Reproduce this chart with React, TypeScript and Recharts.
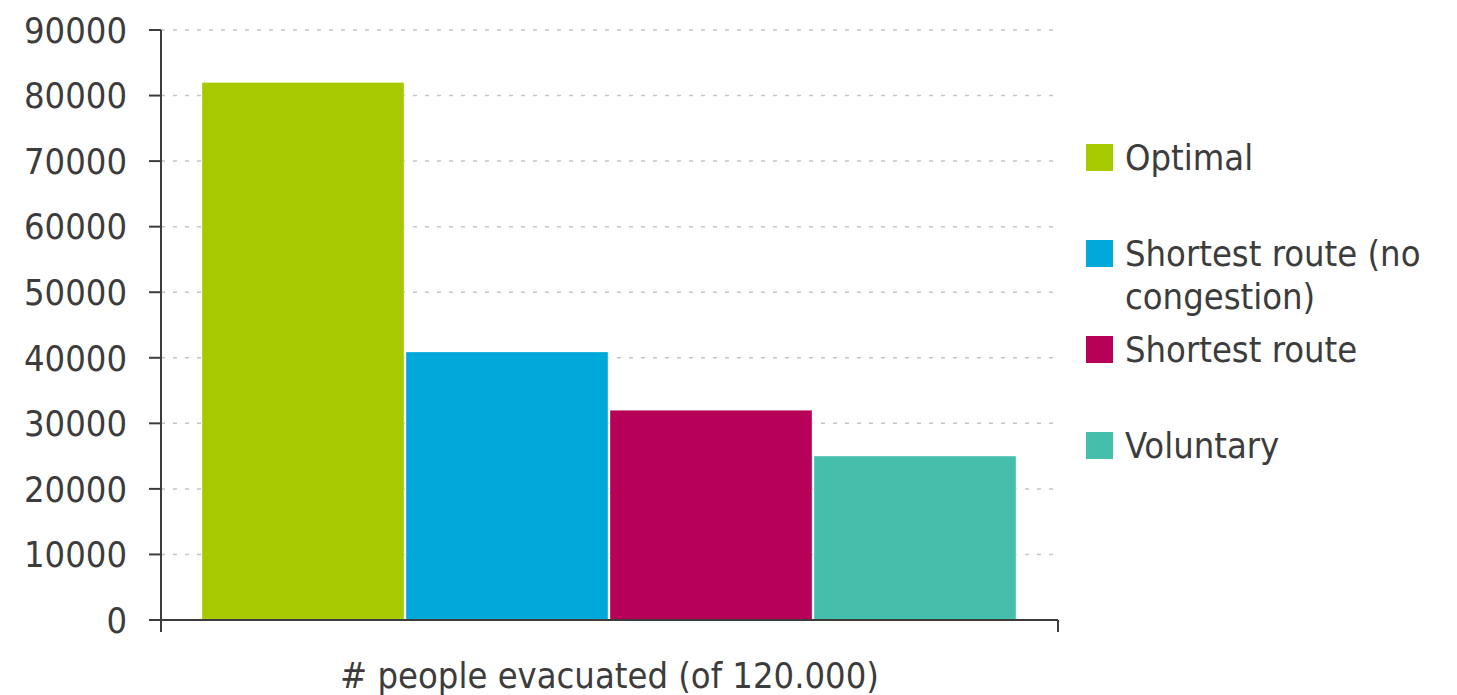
import { BarChart, Bar, XAxis, YAxis, CartesianGrid, Legend } from 'recharts';

// evacuation results, one category with four strategies
const categories = ['# people evacuated (of 120.000)'];
const strategyKeys = ['optimal', 'shortestFree', 'shortest', 'voluntary'];
const strategyNames = ['Optimal', 'Shortest route (no congestion)', 'Shortest route', 'Voluntary'];
const evacuated = [82000, 40900, 32000, 25000];
const strategyColors = ['#a6c900', '#00a9da', '#b70058', '#45bfab'];
const yTicks = [0, 10000, 20000, 30000, 40000, 50000, 60000, 70000, 80000, 90000];

const data = categories.map((name) => {
  const row: Record<string, string | number> = { name };
  strategyKeys.forEach((k, i) => {
    row[k] = evacuated[i];
  });
  return row;
});

const FONT = '"DejaVu Sans Condensed", "DejaVu Sans", sans-serif';
const INK = '#3c3c3c';
const TICK_MARGIN = 10;

const LegendList = ({ payload }: any) => {
  // keep the series order instead of the alphabetical default
  const items = [...(payload || [])].sort(
    (a: any, b: any) => strategyNames.indexOf(a.value) - strategyNames.indexOf(b.value)
  );
  return (
    <div style={{ fontFamily: FONT, fontSize: 36, color: INK }}>
      {items.map((entry: any) => (
        <div key={entry.value} style={{ position: 'relative', height: 96 }}>
          <span
            style={{
              position: 'absolute',
              left: 0,
              top: 8,
              width: 27,
              height: 27,
              background: entry.color,
            }}
          />
          <div style={{ position: 'absolute', left: 39, top: 0, width: 320, lineHeight: '43px' }}>
            {entry.value}
          </div>
        </div>
      ))}
    </div>
  );
};

// category label plus tick marks at both edges of the band
const CategoryTick = ({ x, y, payload, width }: any) => {
  const half = payload?.offset || (width || 0) / 2;
  const axisY = y - TICK_MARGIN;
  return (
    <g>
      <line x1={x - half} x2={x - half} y1={axisY} y2={axisY + 12} stroke={INK} strokeWidth={2} />
      <line x1={x + half} x2={x + half} y1={axisY} y2={axisY + 12} stroke={INK} strokeWidth={2} />
      <text x={x} y={axisY + 68} textAnchor="middle" fontFamily={FONT} fontSize={36} fill={INK}>
        {payload.value}
      </text>
    </g>
  );
};

export default function App() {
  return (
    <div style={{ position: 'absolute', left: 0, top: 0, background: '#fff' }}>
      <BarChart
        width={1457}
        height={695}
        data={data}
        margin={{ top: 30, right: 399, bottom: 0, left: 0 }}
        barCategoryGap={41}
        barGap={2}
      >
        <CartesianGrid vertical={false} stroke="#c4c4c4" strokeWidth={1.5} strokeDasharray="4 8" />
        <XAxis
          dataKey="name"
          height={75}
          tickLine={false}
          tickSize={0}
          tickMargin={TICK_MARGIN}
          interval={0}
          axisLine={{ stroke: INK, strokeWidth: 2 }}
          tick={<CategoryTick />}
        />
        <YAxis
          width={161}
          domain={[0, 90000]}
          ticks={yTicks}
          interval={0}
          tickSize={12}
          tickMargin={22}
          axisLine={{ stroke: INK, strokeWidth: 2 }}
          tickLine={{ stroke: INK, strokeWidth: 2 }}
          tick={{ fontFamily: FONT, fontSize: 36, fill: INK }}
        />
        <Legend
          layout="vertical"
          align="center"
          verticalAlign="middle"
          wrapperStyle={{ left: 1086, top: 136, width: 371 }}
          content={<LegendList />}
        />
        {strategyKeys.map((k, i) => (
          <Bar
            key={k}
            dataKey={k}
            name={strategyNames[i]}
            fill={strategyColors[i]}
            stroke="#ffffff"
            strokeOpacity={0.35}
            strokeWidth={1}
            isAnimationActive={false}
          />
        ))}
      </BarChart>
    </div>
  );
}
